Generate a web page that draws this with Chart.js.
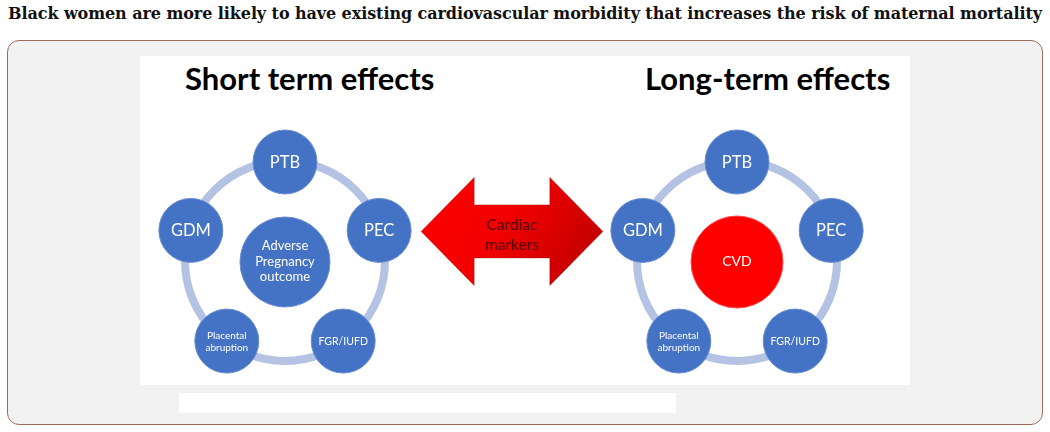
<!DOCTYPE html>
<html>
<head>
<meta charset="utf-8">
<script src="https://cdn.jsdelivr.net/npm/chart.js@4"></script>
<style>
    html, body { margin: 0; padding: 0; background: #fff; }
    body { width: 1050px; height: 432px; position: relative; overflow: hidden; }
    #title { position: absolute; left: 8px; top: 4px; font: bold 16px "DejaVu Serif"; line-height: 19px; white-space: nowrap; color: #111; }
    #frame { position: absolute; left: 7px; top: 40px; width: 1036px; height: 385px; box-sizing: border-box; border: 1.5px solid #a06a5a; border-radius: 12px; background: #f2f2f2; }
    .panel { position: absolute; background: #fff; }
    .sub { position: absolute; font: bold 31px Lato; line-height: 31px; white-space: nowrap; color: #000; }
    canvas { position: absolute; left: 0; top: 0; }
</style>
</head>
<body>
<div id="title">Black women are more likely to have existing cardiovascular morbidity that increases the risk of maternal mortality</div>
<div id="frame"></div>
<div class="panel" style="left:140px;top:56px;width:770px;height:329px"></div>
<div class="panel" style="left:179px;top:393px;width:497px;height:20px"></div>
<div class="sub" id="sub0" style="left:185px;top:63px"></div>
<div class="sub" id="sub1" style="left:645px;top:63px"></div>
<canvas id="diagram" width="1050" height="432"></canvas>

<script>
// what the figure says
const panelTitles = ["Short term effects", "Long-term effects"];
const nodeLabels = [["PTB"], ["PEC"], ["FGR/IUFD"], ["Placental", "abruption"], ["GDM"]];
const nodeSlots = [0, 1, 2, 3, 4];   // position round the ring, clockwise from the top
const hubLabels = [["Adverse", "Pregnancy", "outcome"], ["CVD"]];
const arrowLabel = ["Cardiac", "markers"];

// layout and looks
const rings = [{ x: 285, y: 261 }, { x: 737, y: 261 }];
const ringRadius = 99;
const nodeFont = [16.5, 16.5, 10.5, 10, 16.5];
const hubFont = [13, 14];
const hubColor = ["#4472c4", "#ff0000"];
const blue = "#4472c4";

panelTitles.forEach((t, i) => document.getElementById("sub" + i).textContent = t);

// stretch the heading to the width of the frame
const title = document.getElementById("title");
const tw = title.getBoundingClientRect().width;
title.style.letterSpacing = ((1034 - tw) / title.textContent.length).toFixed(3) + "px";

function nodePoints(c) {
    return nodeSlots.map(s => {
        const a = s * 72 * Math.PI / 180;
        return { x: c.x + ringRadius * Math.sin(a), y: c.y - ringRadius * Math.cos(a) };
    });
}

// writes the labels in the middle of each circle
const labelPlugin = {
    id: "labels",
    afterDatasetsDraw(chart) {
        const ctx = chart.ctx;
        ctx.save();
        ctx.textAlign = "center";
        ctx.textBaseline = "alphabetic";
        chart.data.datasets.forEach((ds, di) => {
            if (!ds.labels) return;
            chart.getDatasetMeta(di).data.forEach((pt, i) => {
                const lines = ds.labels[i];
                const fs = ds.fontSizes[i];
                const lh = fs * 1.2;
                ctx.font = fs + "px Lato";
                ctx.fillStyle = "#fff";
                lines.forEach((line, k) => {
                    const y = pt.y + fs * 0.36 + (k - (lines.length - 1) / 2) * lh + (ds.shift || 0);
                    ctx.fillText(line, pt.x, y);
                });
            });
        });
        ctx.restore();
    }
};

// the double arrow between the two rings
const arrowPlugin = {
    id: "arrow",
    beforeDatasetsDraw(chart) {
        const ctx = chart.ctx;
        const left = chart.getDatasetMeta(1).data[1];   // PEC, left ring
        const right = chart.getDatasetMeta(2).data[4];  // GDM, right ring
        const x0 = left.x + 42, x1 = right.x - 40;
        const cy = (left.y + right.y) / 2 + 1;
        const head = 53, hh = 54, sh = 26.5;
        const g = ctx.createLinearGradient(x0, cy - hh, x1, cy + hh);
        g.addColorStop(0, "#ff0000");
        g.addColorStop(0.45, "#f20000");
        g.addColorStop(1, "#b80000");
        ctx.save();
        ctx.beginPath();
        ctx.moveTo(x0, cy);
        ctx.lineTo(x0 + head, cy - hh);
        ctx.lineTo(x0 + head, cy - sh);
        ctx.lineTo(x1 - head, cy - sh);
        ctx.lineTo(x1 - head, cy - hh);
        ctx.lineTo(x1, cy);
        ctx.lineTo(x1 - head, cy + hh);
        ctx.lineTo(x1 - head, cy + sh);
        ctx.lineTo(x0 + head, cy + sh);
        ctx.lineTo(x0 + head, cy + hh);
        ctx.closePath();
        ctx.fillStyle = g;
        ctx.fill();
        ctx.strokeStyle = "rgba(150,0,0,0.5)";
        ctx.lineWidth = 0.8;
        ctx.stroke();
        ctx.font = "15.5px Lato";
        ctx.fillStyle = "#4a0505";
        ctx.textAlign = "center";
        ctx.fillText(arrowLabel[0], (x0 + x1) / 2, 230);
        ctx.fillText(arrowLabel[1], (x0 + x1) / 2, 250);
        ctx.restore();
    }
};

const ringData = rings.map(c => ({ x: c.x, y: c.y }));

new Chart(document.getElementById("diagram"), {
    type: "scatter",
    data: {
        datasets: [
            {
                label: "ring",
                data: ringData,
                pointRadius: ringRadius + 1,
                pointBorderWidth: 8,
                pointBorderColor: "#b4c3e3",
                pointBackgroundColor: "rgba(0,0,0,0)",
                clip: false,
                order: 3
            },
            {
                label: "short term",
                data: nodePoints(rings[0]),
                labels: nodeLabels,
                fontSizes: nodeFont,
                pointRadius: 32,
                pointBorderWidth: 1,
                pointBorderColor: "#6a8fd0",
                pointBackgroundColor: blue,
                clip: false,
                order: 1
            },
            {
                label: "long term",
                data: nodePoints(rings[1]),
                labels: nodeLabels,
                fontSizes: nodeFont,
                pointRadius: 32,
                pointBorderWidth: 1,
                pointBorderColor: "#6a8fd0",
                pointBackgroundColor: blue,
                clip: false,
                order: 1
            },
            {
                label: "hub",
                data: rings.map(c => ({ x: c.x, y: c.y + 1 })),
                labels: hubLabels,
                fontSizes: hubFont,
                shift: -1,
                pointRadius: [45, 46],
                pointBorderWidth: 1,
                pointBorderColor: ["#6a8fd0", "#ff5050"],
                pointBackgroundColor: hubColor,
                clip: false,
                order: 2
            }
        ]
    },
    options: {
        responsive: false,
        animation: false,
        events: [],
        layout: { padding: 0, autoPadding: false },
        plugins: {
            legend: { display: false },
            tooltip: { enabled: false },
            title: { display: false }
        },
        scales: {
            x: { type: "linear", min: 0, max: 1050, display: false },
            y: { type: "linear", min: 0, max: 432, reverse: true, display: false }
        }
    },
    plugins: [arrowPlugin, labelPlugin]
});
</script>
</body>
</html>
